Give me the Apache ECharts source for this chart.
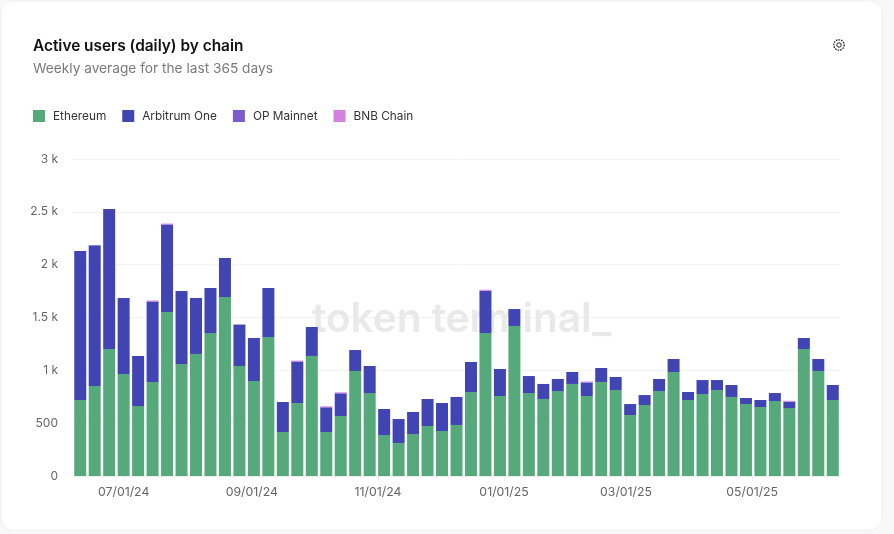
<!DOCTYPE html>
<html>
<head>
<meta charset="utf-8">
<script src="https://cdn.jsdelivr.net/npm/echarts@6/dist/echarts.min.js"></script>
<style>html,body{margin:0;padding:0;background:#f8f8f8}#c{width:894px;height:534px}</style>
</head>
<body>
<div id="c"></div>
<script>
const firstWeek = Date.UTC(2024, 5, 10);
const ethereum = [719,852,1202,965,662,890,1552,1060,1155,1353,1694,1041,899,1315,416,691,1136,416,568,994,785,388,312,397,473,426,483,795,1353,757,1420,785,729,804,871,757,890,814,577,672,804,984,719,776,814,748,681,653,710,643,1202,994,719];
const arbitrum = [1410,1330,1325,720,474,762,828,691,530,426,369,390,407,464,284,392,274,234,214,198,256,246,227,209,256,265,265,284,400,256,160,161,142,114,113,128,132,123,104,94,114,123,76,132,94,113,57,66,75,60,104,113,142];
const opMainnet = [0,4,0,0,0,1,1,0,0,0,0,4,0,0,0,1,0,1,1,0,0,0,0,0,0,0,0,0,1,0,0,0,0,0,0,1,0,0,0,0,0,0,0,0,0,0,0,0,0,1,0,0,0];
const bnbChain = [0,0,0,0,0,8,8,0,0,0,0,0,0,0,0,8,0,8,9,0,0,0,0,0,0,0,0,0,9,0,0,0,0,0,0,8,0,0,0,0,0,0,0,0,0,0,0,0,0,8,0,0,0];
const seriesNames = ['Ethereum','Arbitrum One','OP Mainnet','BNB Chain'];
const seriesColors = ['#55A97B','#4144B3','#7E5BCD','#D67FE3'];
const monthTicks = [Date.UTC(2024,6,1),Date.UTC(2024,8,1),Date.UTC(2024,10,1),Date.UTC(2025,0,1),Date.UTC(2025,2,1),Date.UTC(2025,4,1)];
const DAY = 86400000;
const weeks = ethereum.map((_, i) => firstWeek + i * 7 * DAY);
const xMin = firstWeek - 3.5 * DAY;
const xMax = weeks[weeks.length-1] + 3.5 * DAY;
const pad = n => String(n).padStart(2, '0');
const fmtDate = v => { const d = new Date(v); return pad(d.getUTCMonth()+1)+'/'+pad(d.getUTCDate())+'/'+pad(d.getUTCFullYear()%100); };
const fontFamily = 'Inter';
const chart = echarts.init(document.getElementById('c'), null, {renderer:'canvas'});
const allValues = [ethereum, arbitrum, opMainnet, bnbChain];
chart.setOption({
  animation: false,
  backgroundColor: '#f8f8f8',
  textStyle: {fontFamily},
  title: {
    text: 'Active users (daily) by chain',
    subtext: 'Weekly average for the last 365 days',
    left: 33, top: 37, padding: 0, itemGap: 6,
    textStyle: {fontFamily, fontSize: 15.4, fontWeight: 600, color: '#111111', lineHeight: 18},
    subtextStyle: {fontFamily, fontSize: 13.7, color: '#7a7a7a', lineHeight: 16}
  },
  legend: {
    left: 33, top: 110, padding: 0, itemWidth: 12, itemHeight: 12, itemGap: 16,
    icon: 'rect', selectedMode: false,
    textStyle: {fontFamily, fontSize: 11.8, color: '#333333', padding: [0,0,0,3]},
    data: seriesNames
  },
  grid: {left: 73, right: 54, top: 159, bottom: 58},
  xAxis: [
    {type: 'category', data: weeks.map(fmtDate), show: false},
    {
      type: 'value', scale: true, min: xMin, max: xMax, position: 'bottom',
      axisLine: {onZero: false, lineStyle: {color: '#eeeeee', width: 1}},
      axisTick: {show: true, length: 5, lineStyle: {color: '#eeeeee'}, customValues: monthTicks},
      splitLine: {show: false},
      axisLabel: {customValues: monthTicks, formatter: v => fmtDate(v), color: '#666666', fontSize: 12.3, fontFamily, margin: 10, hideOverlap: false}
    }
  ],
  yAxis: {
    type: 'value', min: 0, max: 3000, interval: 500,
    axisLine: {show: false}, axisTick: {show: false},
    splitLine: {lineStyle: {color: '#f3f3f3', width: 1}},
    axisLabel: {color: '#666666', fontSize: 12, fontFamily, margin: 15,
      formatter: v => v >= 1000 ? (v/1000) + ' k' : String(v)}
  },
  series: seriesNames.map((name, s) => ({
    name, type: 'bar', stack: 'total', barWidth: 12, z: 3, xAxisIndex: 0,
    itemStyle: {color: seriesColors[s]},
    data: allValues[s]
  })),
  graphic: [
    {type:'rect', z:-10, silent:true, shape:{x:1,y:1,width:881,height:529,r:12}, style:{fill:'#ffffff',stroke:'#f0f0f0',lineWidth:1}},
    {type:'text', z:1, silent:true, x:312, y:299, style:{text:'token terminal_', fill:'#e9e9e9', font:'600 40.5px Inter'}},
    {type:'circle', z:5, silent:true, shape:{cx:839,cy:45,r:5.2}, style:{fill:'none',stroke:'#222222',lineWidth:1.3,lineDash:[1.6,1]}},
    {type:'circle', z:5, silent:true, shape:{cx:839,cy:45,r:2.2}, style:{fill:'none',stroke:'#222222',lineWidth:1}}
  ]
});
</script>
</body>
</html>
